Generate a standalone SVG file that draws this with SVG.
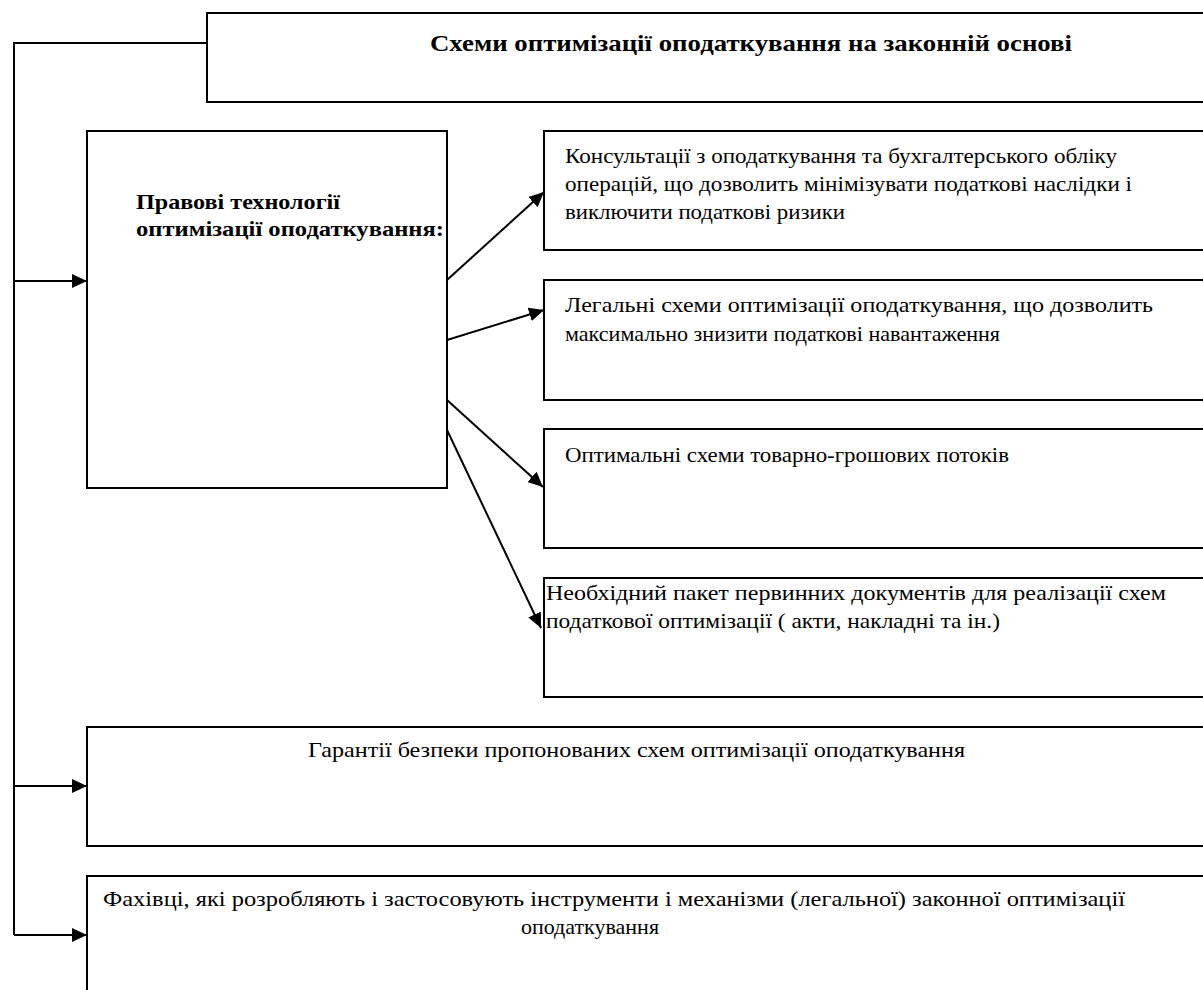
<svg xmlns="http://www.w3.org/2000/svg" width="1203" height="990" viewBox="0 0 1203 990">
<style>
.box{fill:#fff;stroke:#000;stroke-width:2}
.t{font-family:"Liberation Serif","Times New Roman",serif;font-size:21px;fill:#000}
.t6{font-family:"Liberation Serif","Times New Roman",serif;font-size:22px;fill:#000}
.b{font-family:"Liberation Serif","Times New Roman",serif;font-size:22px;font-weight:bold;fill:#000}
.h{font-family:"Liberation Serif","Times New Roman",serif;font-size:23px;font-weight:bold;fill:#000}
.c{fill:none;stroke:#000;stroke-width:2}
</style>
<defs>
<marker id="ah" markerUnits="userSpaceOnUse" markerWidth="16" markerHeight="14" refX="15" refY="7" orient="auto">
<path d="M0,0 L15,7 L0,14 z" fill="#000"/>
</marker>
</defs>
<rect width="1203" height="990" fill="#fff"/>
<g id="connectors">
<path class="c" d="M207,43 H14 V935"/>
<path class="c" d="M14,281 H87" marker-end="url(#ah)"/>
<path class="c" d="M14,786 H87" marker-end="url(#ah)"/>
<path class="c" d="M14,935 H87" marker-end="url(#ah)"/>
<path class="c" d="M447,280 L544,192" marker-end="url(#ah)"/>
<path class="c" d="M447,340 L544,310" marker-end="url(#ah)"/>
<path class="c" d="M447,400 L543,487" marker-end="url(#ah)"/>
<path class="c" d="M447,430 L541,628" marker-end="url(#ah)"/>
</g>
<g id="root">
<rect class="box" x="207" y="13" width="1010" height="89"/>
<text class="h" x="430" y="51" textLength="642" lengthAdjust="spacingAndGlyphs">Схеми оптимізації оподаткування на законній основі</text>
</g>
<g id="legal-tech">
<rect class="box" x="87" y="131" width="360" height="357"/>
<text class="b" x="136" y="209" textLength="204" lengthAdjust="spacingAndGlyphs">Правові технології</text>
<text class="b" x="136" y="236" textLength="308" lengthAdjust="spacingAndGlyphs">оптимізації оподаткування:</text>
</g>
<g id="consult">
<rect class="box" x="544" y="131" width="680" height="119"/>
<text class="t" x="565" y="163" textLength="552" lengthAdjust="spacingAndGlyphs">Консультації з оподаткування та бухгалтерського обліку</text>
<text class="t" x="565" y="191" textLength="567" lengthAdjust="spacingAndGlyphs">операцій, що дозволить мінімізувати  податкові наслідки і</text>
<text class="t" x="565" y="219" textLength="280" lengthAdjust="spacingAndGlyphs">виключити податкові ризики</text>
</g>
<g id="legal-schemes">
<rect class="box" x="544" y="280" width="680" height="120"/>
<text class="t" x="565" y="312" textLength="588" lengthAdjust="spacingAndGlyphs">Легальні схеми оптимізації оподаткування, що дозволить</text>
<text class="t" x="565" y="341" textLength="435" lengthAdjust="spacingAndGlyphs">максимально знизити податкові навантаження</text>
</g>
<g id="flows">
<rect class="box" x="544" y="429" width="680" height="119"/>
<text class="t" x="565" y="462" textLength="444" lengthAdjust="spacingAndGlyphs">Оптимальні схеми товарно-грошових потоків</text>
</g>
<g id="documents">
<rect class="box" x="544" y="578" width="680" height="119"/>
<text class="t" x="546" y="600" textLength="620" lengthAdjust="spacingAndGlyphs">Необхідний пакет первинних документів для реалізації схем</text>
<text class="t" x="546" y="628" textLength="454" lengthAdjust="spacingAndGlyphs">податкової оптимізації ( акти, накладні та ін.)</text>
</g>
<g id="guarantees">
<rect class="box" x="87" y="727" width="1137" height="119"/>
<text class="t" x="308" y="757" textLength="657" lengthAdjust="spacingAndGlyphs">Гарантії безпеки  пропонованих  схем оптимізації оподаткування</text>
</g>
<g id="specialists">
<rect class="box" x="87" y="876" width="1137" height="130"/>
<text class="t6" x="103" y="906" textLength="1022" lengthAdjust="spacingAndGlyphs">Фахівці, які розробляють і застосовують інструменти і механізми (легальної) законної оптимізації</text>
<text class="t6" x="590" y="934" text-anchor="middle">оподаткування</text>
</g>
</svg>
